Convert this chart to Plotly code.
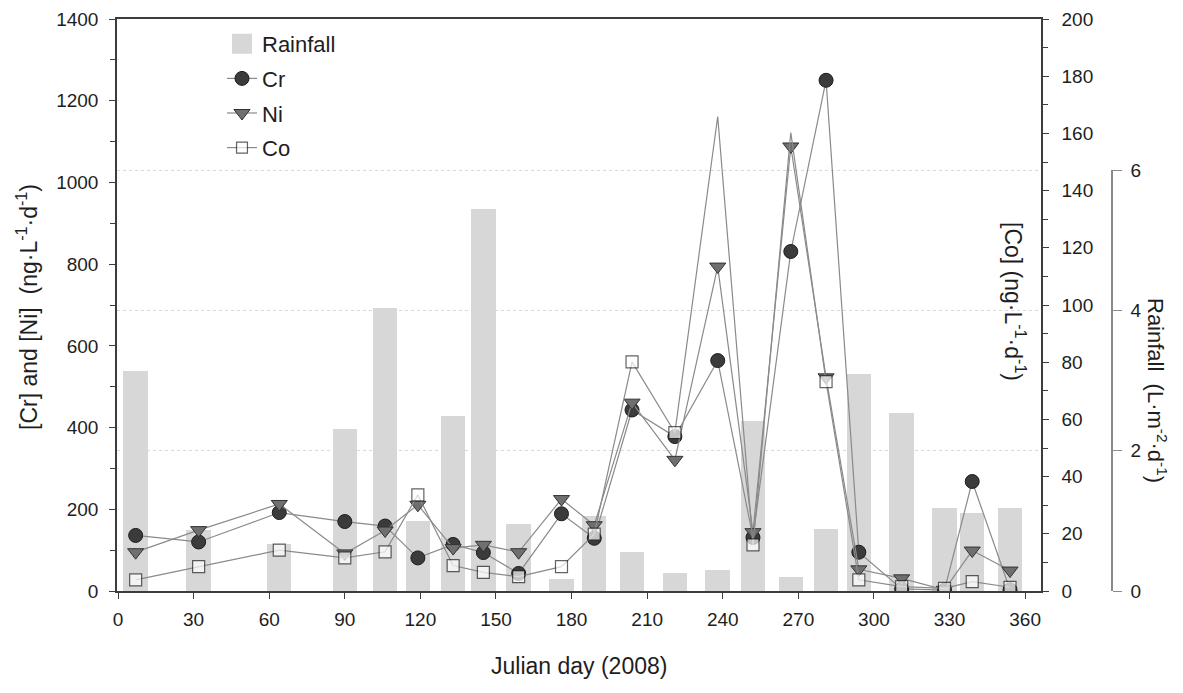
import plotly.graph_objects as go

# ---- data ----
days = [7, 32, 64, 90, 106, 119, 133, 145, 159, 176, 189, 204, 221, 238, 252, 267, 281, 294, 311, 328, 339, 354]
rainfall = [3.14, 0.87, 0.67, 2.31, 4.03, 1.00, 2.50, 5.44, 0.96, 0.17, 1.07, 0.56, 0.26, 0.30, 2.43, 0.20, 0.89, 3.09, 2.54, 1.18, 1.11, 1.18]
cr = [136, 120, 192, 170, 159, 81, 114, 94, 43, 189, 129, 443, 378, 564, 131, 831, 1250, 95, 5, 2, 268, 3]
ni = [95, 149, 213, 92, 148, 211, 105, 113, 95, 225, 161, 461, 321, 794, 144, 1088, 523, 53, 31, 3, 99, 50]
co = [3.9, 8.5, 14.3, 11.6, 13.7, 33.6, 8.9, 6.5, 5.0, 8.5, 19.9, 80.1, 55.4, 165.9, 16.1, 160.3, 73.2, 3.9, 1.5, 0.9, 3.3, 1.3]
x_ticks = [0, 30, 60, 90, 120, 150, 180, 210, 240, 270, 300, 330, 360]
rain_ticks = [0, 2, 4, 6]

FONT = "Liberation Sans, Arial, Helvetica, sans-serif"
AX = "#3c3c3c"
LINE = "#8a8a8a"
BAR = "#d7d7d7"

# geometry: screen pixels; the page body adds an 8 px offset
OFF = 8
SW, SH = 1183, 693
W, H = SW - OFF, SH - OFF
S_LEFT, S_RIGHT, S_TOP, S_BOTTOM = 117, 1041, 19, 591
S_RAIN_X, S_RAIN_TOP = 1112, 170
L = S_LEFT - OFF
T = S_TOP - OFF
B = SH - S_BOTTOM
R = 30
pw = W - L - R
ph = H - T - B


def px(xs):
    return (xs - OFF - L) / pw


def py(ys):
    return (H - B - (ys - OFF)) / ph


x_end = px(S_RIGHT)
rain_pos = px(S_RAIN_X)
rain_top = py(S_RAIN_TOP)

fig = go.Figure()

fig.add_trace(go.Bar(x=days, y=rainfall, width=9.7, marker=dict(color=BAR, line=dict(width=0)),
                     xaxis="x", yaxis="y", showlegend=False, name="Rainfall"))

# legend entry for rainfall
fig.add_trace(go.Scatter(x=[None], y=[None], mode="markers", name="Rainfall", legendgroup="a",
                         marker=dict(symbol="square", size=16, color=BAR, line=dict(color=BAR, width=4)),
                         yaxis="y2"))

fig.add_trace(go.Scatter(x=days, y=cr, mode="lines+markers", name="Cr", legendgroup="b",
                         line=dict(color=LINE, width=1.2),
                         marker=dict(symbol="circle", size=14, color="#3b3b3b", line=dict(color="#1c1c1c", width=1)),
                         yaxis="y2"))
fig.add_trace(go.Scatter(x=days, y=ni, mode="lines+markers", name="Ni", legendgroup="c",
                         line=dict(color=LINE, width=1.2),
                         marker=dict(symbol="triangle-down", size=14, color="#6f6f6f", line=dict(color="#333333", width=1)),
                         yaxis="y2"))
co_sizes = [0 if d in (238, 267) else 12 for d in days]
fig.add_trace(go.Scatter(x=days, y=co, mode="lines+markers", name="Co", legendgroup="d",
                         line=dict(color=LINE, width=1.2),
                         marker=dict(symbol="square", size=co_sizes, color="white", line=dict(color="#222222", width=1.2)),
                         yaxis="y3"))
# holder for the rainfall axis
fig.add_trace(go.Scatter(x=[None], y=[None], yaxis="y4", showlegend=False, hoverinfo="skip"))

tickfont = dict(family=FONT, size=19, color="#1e1e1e")

fig.update_layout(
    width=W, height=H, autosize=False,
    margin=dict(l=L, r=R, t=T, b=B, autoexpand=False),
    paper_bgcolor="white", plot_bgcolor="rgba(0,0,0,0)",
    font=dict(family=FONT, color="#1e1e1e"),
    bargap=0,
    xaxis=dict(domain=[0, x_end], range=[-0.4, 366.3], tickvals=x_ticks, ticks="outside", ticklen=6,
               tickcolor=AX, showline=True, linecolor=AX, linewidth=1.5, mirror=True,
               showgrid=False, zeroline=False, tickfont=tickfont, anchor="y", automargin=False,
               ticklabelstandoff=4),
    yaxis=dict(range=[0, 6 / rain_top], tickvals=[2, 4, 6], showticklabels=False, ticks="",
               showgrid=True, gridcolor="#dadada", griddash="dot", gridwidth=1,
               showline=False, zeroline=False, anchor="x", automargin=False),
    yaxis2=dict(overlaying="y", side="left", range=[0, 1400], dtick=200, ticks="outside", ticklen=6,
                tickcolor=AX, minor=dict(dtick=100, ticks="outside", ticklen=5, tickcolor=AX),
                showline=True, linecolor=AX, linewidth=1.5, showgrid=False, zeroline=False,
                tickfont=tickfont, anchor="x", automargin=False, ticklabelstandoff=7),
    yaxis3=dict(overlaying="y", side="right", range=[0, 200], dtick=20, ticks="outside", ticklen=6,
                tickcolor=AX, minor=dict(dtick=10, ticks="outside", ticklen=5, tickcolor=AX),
                showline=True, linecolor=AX, linewidth=1.5, showgrid=False, zeroline=False,
                tickfont=tickfont, anchor="x", automargin=False, ticklabelstandoff=9),
    yaxis4=dict(domain=[0, rain_top], range=[0, 6], anchor="free", position=rain_pos, side="right",
                tickvals=rain_ticks, ticks="outside", ticklen=9, tickcolor="#8a8a8a",
                showline=True, linecolor="#8a8a8a", linewidth=1.5, showgrid=False, zeroline=False,
                tickfont=tickfont, automargin=False, ticklabelstandoff=5),
    legend=dict(x=px(222), y=py(23), xanchor="left", yanchor="top", bgcolor="rgba(0,0,0,0)",
                font=dict(family=FONT, size=22, color="#1e1e1e"), tracegroupgap=3,
                traceorder="grouped"),
    annotations=[
        dict(text="Julian day (2008)", x=px(579), y=py(666), xref="paper", yref="paper",
             showarrow=False, font=dict(family=FONT, size=23), xanchor="center", yanchor="middle"),
        dict(text="[Cr] and [Ni]  (ng·L<sup>-1</sup>·d<sup>-1</sup>)", x=px(27), y=py(307),
             xref="paper", yref="paper", showarrow=False, textangle=-90,
             font=dict(family=FONT, size=23), xanchor="center", yanchor="middle"),
        dict(text="[Co] (ng·L<sup>-1</sup>·d<sup>-1</sup>)", x=px(1015), y=py(301),
             xref="paper", yref="paper", showarrow=False, textangle=90,
             font=dict(family=FONT, size=23), xanchor="center", yanchor="middle"),
        dict(text="Rainfall  (L·m<sup>-2</sup>·d<sup>-1</sup>)", x=px(1157), y=py(390),
             xref="paper", yref="paper", showarrow=False, textangle=90,
             font=dict(family=FONT, size=22), xanchor="center", yanchor="middle"),
    ],
)

fig.write_html("out.html")
